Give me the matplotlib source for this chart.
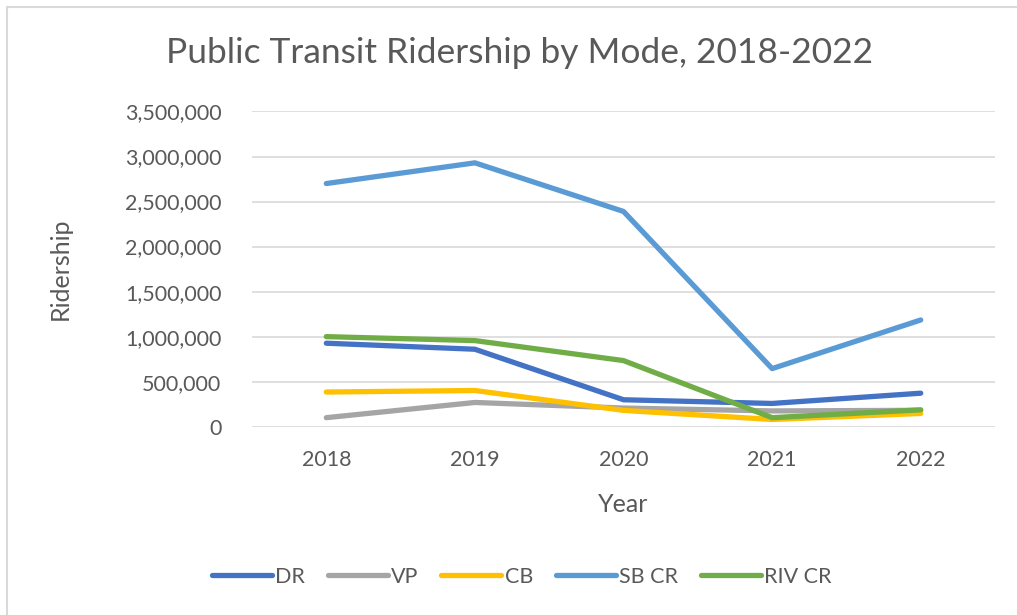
import matplotlib.pyplot as plt
from matplotlib.patches import Rectangle
from matplotlib.ticker import FuncFormatter

years = ['2018', '2019', '2020', '2021', '2022']
modes = ['DR', 'VP', 'CB', 'SB CR', 'RIV CR']
dr = [927000, 860000, 299000, 258000, 372000]
vp = [100000, 269000, 207000, 175000, 182000]
cb = [385000, 402000, 181000, 80000, 147000]
sb_cr = [2700000, 2930000, 2390000, 645000, 1185000]
riv_cr = [1000000, 956000, 734000, 100000, 187000]
colors = ['#4472C4', '#A5A5A5', '#FFC000', '#5B9BD5', '#70AD47']

TEXT = '#595959'
plt.rcParams['font.family'] = ['Lato', 'DejaVu Sans']


def main():
    fig = plt.figure(figsize=(10.17, 6.15), dpi=100)
    ax = fig.add_axes([0.2478, 0.3062, 0.7306, 0.5125])

    # chart area border (Excel style)
    fig.patches.append(Rectangle((6.5 / 1017, -0.1), 1.2, 1 - 6.5 / 615 + 0.1,
                                 transform=fig.transFigure, fill=False,
                                 edgecolor='#D9D9D9', linewidth=1.5))

    x = range(len(years))
    for vals, name, c in zip([dr, vp, cb, sb_cr, riv_cr], modes, colors):
        ax.plot(x, vals, color=c, linewidth=3.8, label=name,
                solid_capstyle='round', solid_joinstyle='round')

    ax.set_xlim(-0.5, len(years) - 0.5)
    ax.set_ylim(0, 3500000)
    ax.set_yticks(range(0, 3500001, 500000))
    ax.yaxis.set_major_formatter(FuncFormatter(lambda v, p: f'{int(v):,}'))
    ax.set_xticks(list(x))
    ax.set_xticklabels(years)
    ax.grid(axis='y', color='#D9D9D9', linewidth=1.2)
    ax.set_axisbelow(True)
    for s in ax.spines.values():
        s.set_visible(False)
    ax.tick_params(length=0, labelsize=15.5, labelcolor=TEXT)
    ax.tick_params(axis='y', pad=22)
    ax.tick_params(axis='x', pad=17)

    ax.set_xlabel('Year', fontsize=18, color=TEXT, labelpad=16)
    ax.set_ylabel('Ridership', fontsize=18, color=TEXT)
    ax.yaxis.set_label_coords(-0.242, 0.5)

    fig.text(0.511, 0.914, 'Public Transit Ridership by Mode, 2018-2022',
             ha='center', va='center', fontsize=25.5, color=TEXT)

    leg = fig.legend(loc='center', bbox_to_anchor=(0.513, 0.062), ncol=5,
                     frameon=False, fontsize=15.5, handlelength=2.8,
                     handletextpad=0.15, columnspacing=1.05)
    for t in leg.get_texts():
        t.set_color(TEXT)

    fig.savefig('out.png', dpi=100, facecolor='white')


if __name__ == '__main__':
    main()
